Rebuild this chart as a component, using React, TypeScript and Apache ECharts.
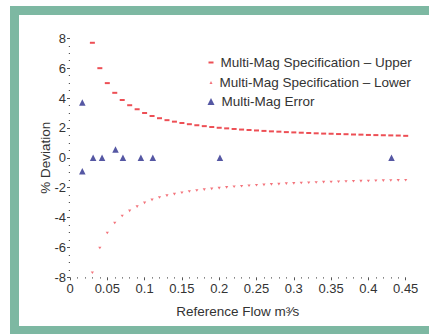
import React, { useEffect, useRef } from "react";
import * as echarts from "echarts";

const specFlow = [
  0.03, 0.04, 0.05, 0.06, 0.07, 0.08, 0.09, 0.1, 0.11, 0.12, 0.13, 0.14, 0.15,
  0.16, 0.17, 0.18, 0.19, 0.2, 0.21, 0.22, 0.23, 0.24, 0.25, 0.26, 0.27, 0.28,
  0.29, 0.3, 0.31, 0.32, 0.33, 0.34, 0.35, 0.36, 0.37, 0.38, 0.39, 0.4, 0.41,
  0.42, 0.43, 0.44, 0.45,
];
const specUpper = [
  7.7, 6.0, 5.0, 4.35, 3.87, 3.52, 3.25, 3.0, 2.8, 2.65, 2.52, 2.42, 2.33,
  2.25, 2.18, 2.12, 2.06, 2.01, 1.97, 1.93, 1.89, 1.86, 1.83, 1.8, 1.77, 1.75,
  1.72, 1.7, 1.68, 1.66, 1.64, 1.62, 1.61, 1.59, 1.58, 1.56, 1.55, 1.53, 1.52,
  1.51, 1.5, 1.49, 1.47,
];
const specLower = [
  -7.7, -6.04, -5.03, -4.36, -3.9, -3.55, -3.27, -3.02, -2.82, -2.66, -2.53,
  -2.43, -2.34, -2.26, -2.19, -2.13, -2.08, -2.03, -1.98, -1.94, -1.9, -1.87,
  -1.84, -1.81, -1.78, -1.76, -1.73, -1.71, -1.69, -1.67, -1.65, -1.63, -1.62,
  -1.6, -1.59, -1.57, -1.56, -1.55, -1.54, -1.53, -1.52, -1.51, -1.5,
];
const errorFlow = [0.0165, 0.0165, 0.031, 0.043, 0.061, 0.071, 0.095, 0.111, 0.201, 0.431];
const errorValue = [3.7, -0.9, 0, 0, 0.55, 0, 0, 0, 0, 0];

const yTicks = { min: -8, max: 8, interval: 2 };
const xTicks = { min: 0, max: 0.45, interval: 0.05 };

const NAMES = [
  "Multi-Mag Specification – Upper",
  "Multi-Mag Specification – Lower",
  "Multi-Mag Error",
];
const GREEN = "#7db8a2";
const FONT = "Liberation Sans, Arial, Helvetica, sans-serif";

export default function App() {
  const ref = useRef<HTMLDivElement>(null);
  useEffect(() => {
    if (!ref.current) return;
    const chart = echarts.init(ref.current, undefined, { renderer: "svg" });
    const legendBase = {
      orient: "vertical",
      padding: 0,
      itemGap: 0,
      selectedMode: false,
      textStyle: { fontFamily: FONT, fontSize: 13.5, color: "#333", padding: [0, 0, 0, 2] },
    };
    chart.setOption({
      animation: false,
      backgroundColor: "#fff",
      textStyle: { fontFamily: FONT },
      grid: { left: 70, right: 23.3, top: 38.3, bottom: 56.7 },
      legend: [
        { ...legendBase, left: 208.5, top: 55.5, itemWidth: 5, itemHeight: 2, icon: "rect", data: [NAMES[0]] },
        { ...legendBase, left: 209.5, top: 75.5, itemWidth: 3, itemHeight: 3, icon: "triangle", data: [{ name: NAMES[1], symbolRotate: 180 }] },
        { ...legendBase, left: 207.5, top: 94.5, itemWidth: 7, itemHeight: 7, icon: "triangle", data: [NAMES[2]] },
      ],
      xAxis: {
        type: "value",
        min: xTicks.min,
        max: xTicks.max,
        interval: xTicks.interval,
        name: "Reference Flow m³⁄s",
        nameLocation: "middle",
        nameGap: 27,
        nameMoveOverlap: false,
        nameTextStyle: { fontFamily: FONT, fontSize: 13.5, color: "#333" },
        axisLine: { show: false, onZero: false },
        axisTick: { show: true, length: 3, lineStyle: { color: "#555" } },
        minorTick: { show: true, splitNumber: 5, length: 1.2, lineStyle: { color: "#555" } },
        splitLine: { show: false },
        axisLabel: {
          fontFamily: FONT,
          fontSize: 13,
          color: "#333",
          margin: 5,
          formatter: (v: number) => String(Math.round(v * 100) / 100),
        },
      },
      yAxis: {
        type: "value",
        min: yTicks.min,
        max: yTicks.max,
        interval: yTicks.interval,
        name: "% Deviation",
        nameLocation: "middle",
        nameGap: 18,
        nameMoveOverlap: false,
        nameTextStyle: { fontFamily: FONT, fontSize: 13.5, color: "#333" },
        axisLine: { show: false },
        axisTick: { show: true, length: 3, lineStyle: { color: "#555" } },
        minorTick: { show: true, splitNumber: 4, length: 1.2, lineStyle: { color: "#555" } },
        splitLine: { show: false },
        axisLabel: { fontFamily: FONT, fontSize: 13, color: "#333", margin: 4 },
      },
      series: [
        {
          name: NAMES[0],
          type: "scatter",
          symbol: "rect",
          symbolSize: [5, 2],
          itemStyle: { color: "#e8232b" },
          data: specFlow.map((x, i) => [x, specUpper[i]]),
        },
        {
          name: NAMES[1],
          type: "scatter",
          symbol: "triangle",
          symbolRotate: 180,
          symbolSize: [3.2, 2.6],
          itemStyle: { color: "#f0505a" },
          data: specFlow.map((x, i) => [x, specLower[i]]),
        },
        {
          name: NAMES[2],
          type: "scatter",
          symbol: "triangle",
          symbolSize: 6.5,
          itemStyle: { color: "#2b2d8c" },
          data: errorFlow.map((x, i) => [x, errorValue[i]]),
        },
      ],
      graphic: [
        { type: "rect", shape: { x: 10, y: 6, width: 9, height: 328 }, style: { fill: GREEN } },
        { type: "rect", shape: { x: 10, y: 6, width: 419, height: 9 }, style: { fill: GREEN } },
        { type: "rect", shape: { x: 10, y: 326, width: 419, height: 8 }, style: { fill: GREEN } },
      ],
    });
    return () => chart.dispose();
  }, []);
  return (
    <div
      ref={ref}
      style={{ position: "fixed", left: 0, top: 0, width: 429, height: 334 }}
    />
  );
}
